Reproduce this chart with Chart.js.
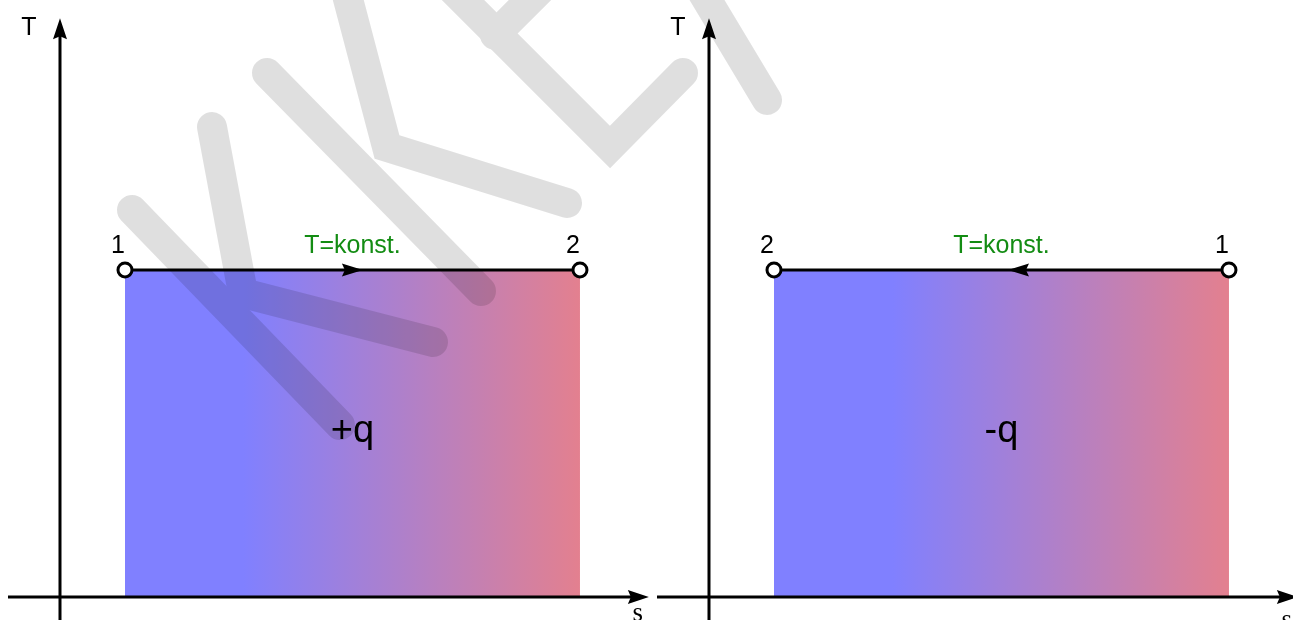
<!DOCTYPE html>
<html>
<head>
<meta charset="utf-8">
<script src="https://cdn.jsdelivr.net/npm/chart.js@4.4.0/dist/chart.umd.min.js"></script>
<style>
html, body { margin: 0; padding: 0; background: #fff; overflow: hidden; }
#wrap { position: relative; width: 1293px; height: 620px; overflow: hidden; }
.panel { position: absolute; top: 0; width: 649px; height: 620px; }
#left { left: 0; }
#right { left: 649px; }
#wm { position: absolute; left: 0; top: 0; opacity: 0.125; pointer-events: none; }
</style>
</head>
<body>
<div id="wrap">
  <div class="panel" id="left"><canvas id="chartLeft" width="649" height="620"></canvas></div>
  <div class="panel" id="right"><canvas id="chartRight" width="649" height="620"></canvas></div>
  <canvas id="wm" width="1293" height="620"></canvas>
</div>
<script>
// T-s diagram, isothermal process: heat in (left) / heat out (right)
const stateNames = ['1', '2'];
const leftEntropy = [1, 8];     // s of state 1, state 2
const rightEntropy = [8, 1];
const temperature = 5;
const heatLabels = ['+q', '-q'];
const isoLabel = 'T=konst.';
const axisNames = ['T', 's'];
const arrowTips = [4.66, 4.6];  // s where the direction arrow tip sits
const heatLabelPos = [4.5, 2.37];

const sansFont = '"Liberation Sans", Arial, sans-serif';

function areaFill(context) {
    const chart = context.chart;
    if (!chart.chartArea) return '#8080ff';
    const xs = chart.scales.x;
    const x0 = xs.getPixelForValue(Math.min(...leftEntropy));
    const x1 = xs.getPixelForValue(Math.max(...leftEntropy));
    const g = chart.ctx.createLinearGradient(x0, 0, x1, 0);
    g.addColorStop(0, '#8080ff');
    g.addColorStop(0.26, '#8080ff');
    g.addColorStop(1, '#e3808f');
    return g;
}

function arrowHead(ctx, tipX, tipY, dir, len, half) {
    // dir: 1 right, -1 left, 'up'
    ctx.beginPath();
    if (dir === 'up') {
        ctx.moveTo(tipX, tipY);
        ctx.lineTo(tipX - half, tipY + len);
        ctx.lineTo(tipX, tipY + len - 3);
        ctx.lineTo(tipX + half, tipY + len);
    } else {
        ctx.moveTo(tipX, tipY);
        ctx.lineTo(tipX - dir * len, tipY - half);
        ctx.lineTo(tipX - dir * (len - 3), tipY);
        ctx.lineTo(tipX - dir * len, tipY + half);
    }
    ctx.closePath();
    ctx.fill();
}

const diagramPlugin = {
    id: 'diagram',
    afterDatasetsDraw(chart, args, opts) {
        const { ctx, scales: { x, y } } = chart;
        const x0 = x.getPixelForValue(0);
        const y0 = y.getPixelForValue(0);
        ctx.save();
        ctx.strokeStyle = '#000';
        ctx.fillStyle = '#000';
        ctx.lineWidth = 3;

        // axes
        const yTop = y.getPixelForValue(8.85);
        ctx.beginPath();
        ctx.moveTo(x0, chart.height);
        ctx.lineTo(x0, yTop + 15);
        ctx.stroke();
        arrowHead(ctx, x0, yTop, 'up', 21, 7);

        const xEnd = x.getPixelForValue(9.06);
        ctx.beginPath();
        ctx.moveTo(x.getPixelForValue(-0.8), y0);
        ctx.lineTo(xEnd - 15, y0);
        ctx.stroke();
        arrowHead(ctx, xEnd, y0, 1, 21, 7);

        // direction arrow on the isotherm
        const sv = opts.entropy;
        const dir = sv[1] > sv[0] ? 1 : -1;
        arrowHead(ctx, x.getPixelForValue(opts.arrowTip), y.getPixelForValue(temperature), dir, 21, 6.5);

        // axis names
        ctx.textAlign = 'center';
        ctx.textBaseline = 'alphabetic';
        ctx.font = '25px ' + sansFont;
        ctx.fillText(axisNames[0], x0 - 31, yTop + 17);
        ctx.font = '27px "Liberation Serif", "Times New Roman", serif';
        ctx.fillText(axisNames[1], xEnd - 11, y0 + opts.sLabelDy);

        // state labels
        const yT = y.getPixelForValue(temperature);
        ctx.font = '25px ' + sansFont;
        sv.forEach((s, i) => {
            ctx.fillText(stateNames[i], x.getPixelForValue(s) - 7, yT - 17);
        });

        // isotherm label
        ctx.fillStyle = '#138c13';
        ctx.fillText(isoLabel, x.getPixelForValue((sv[0] + sv[1]) / 2), yT - 17);

        // heat label
        ctx.fillStyle = '#000';
        ctx.font = '38px ' + sansFont;
        ctx.fillText(opts.heat, x.getPixelForValue(heatLabelPos[0]), y.getPixelForValue(heatLabelPos[1]));
        ctx.restore();
    }
};

function makeChart(id, entropy, heat, arrowTip, sLabelDy) {
    return new Chart(document.getElementById(id), {
        type: 'line',
        data: {
            datasets: [{
                data: entropy.map(s => ({ x: s, y: temperature })),
                borderColor: '#000',
                borderWidth: 3,
                fill: 'origin',
                backgroundColor: areaFill,
                pointRadius: 7,
                pointBackgroundColor: '#fff',
                pointBorderColor: '#000',
                pointBorderWidth: 3,
                tension: 0,
                clip: false,
            }]
        },
        options: {
            responsive: false,
            animation: false,
            layout: { padding: 0, autoPadding: false },
            scales: {
                x: { type: 'linear', min: -0.923, max: 9.062, display: false },
                y: { type: 'linear', min: -0.3517, max: 9.128, display: false },
            },
            plugins: {
                legend: { display: false },
                tooltip: { enabled: false },
                diagram: { entropy, heat, arrowTip, sLabelDy },
            },
        },
        plugins: [diagramPlugin],
    });
}

makeChart('chartLeft', leftEntropy, heatLabels[0], arrowTips[0], 24);
makeChart('chartRight', rightEntropy, heatLabels[1], arrowTips[1], 31);

// watermark
const wm = document.getElementById('wm').getContext('2d');
const strokes = [
    [[132, 210], [340, 425]],
    [[212, 127], [243, 293], [433, 342]],
    [[267, 73], [481, 291]],
    [[343, -20], [387, 147], [567, 203]],
    [[443, -20], [610, 147], [683, 73]],
    [[495, 35], [545, -15]],
    [[695, -20], [767, 100]],
];
wm.strokeStyle = '#000';
wm.lineWidth = 30;
wm.lineCap = 'round';
wm.lineJoin = 'miter';
strokes.forEach(pts => {
    wm.beginPath();
    pts.forEach((p, i) => i ? wm.lineTo(p[0], p[1]) : wm.moveTo(p[0], p[1]));
    wm.stroke();
});
</script>
</body>
</html>
